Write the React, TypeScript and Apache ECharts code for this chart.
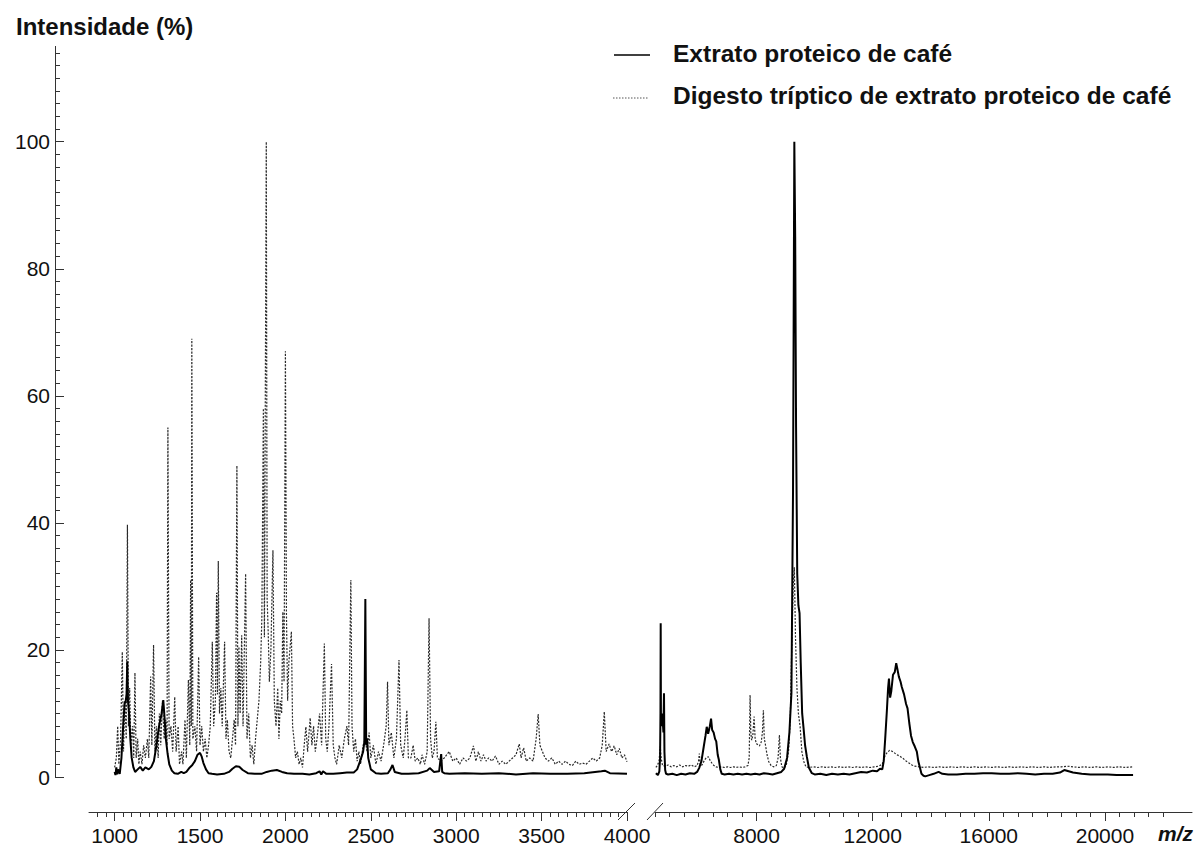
import React, { useEffect, useRef } from "react";
import * as echarts from "echarts";

const FONT = "'Liberation Sans', Arial, Helvetica, sans-serif";

const NAME_EXTRACT = "Extrato proteico de café";
const NAME_DIGEST = "Digesto tríptico de extrato proteico de café";
const Y_TITLE = "Intensidade (%)";
const X_TITLE = "m/z";

// tick positions / labels
const Y_MAJOR = [0, 20, 40, 60, 80, 100];
const LEFT_MAJOR = [1000, 1500, 2000, 2500, 3000, 3500, 4000];
const RIGHT_MAJOR = [8000, 12000, 16000, 20000];
const steps = (a: number, b: number, s: number) => {
  const out: number[] = [];
  for (let v = a; v <= b + 1e-9; v += s) out.push(v);
  return out;
};
const Y_MINOR = steps(0, 114, 2);
const LEFT_MINOR = steps(900, 4000, 50);
const RIGHT_MINOR = steps(4500, 22000, 500);

// Left panel (m/z 1000–4000): protein extract (solid)
const LEFT_EXTRACT: [number, number][] = [
  [1000, 0.8], [1005, 0.3], [1010, 1.5], [1015, 0.4], [1020, 1.2], [1030, 0.5], [1040, 3], [1050, 8],
  [1058, 11.5], [1065, 12], [1070, 13], [1074, 18.2], [1078, 12], [1085, 10], [1092, 6], [1100, 3],
  [1110, 1.5], [1120, 0.8], [1135, 1.2], [1150, 1.6], [1165, 1.0], [1180, 1.5], [1200, 1.2], [1215, 1.6],
  [1230, 2.5], [1245, 5], [1260, 8], [1275, 10], [1285, 12.1], [1292, 9.5], [1300, 6], [1310, 3.7],
  [1320, 2], [1335, 1], [1350, 0.6], [1370, 0.5], [1390, 0.8], [1405, 0.6], [1420, 0.8], [1440, 1.5],
  [1455, 1.9], [1470, 2.5], [1485, 3.5], [1500, 3.8], [1510, 3.2], [1520, 2.2], [1535, 1.2], [1550, 0.6],
  [1570, 0.5], [1600, 0.4], [1640, 0.5], [1670, 0.8], [1690, 1.3], [1710, 1.7], [1730, 1.6], [1750, 1.1],
  [1780, 0.6], [1820, 0.5], [1860, 0.5], [1890, 0.8], [1920, 1.0], [1950, 1.1], [1980, 0.8], [2010, 0.6],
  [2050, 0.5], [2100, 0.5], [2140, 0.4], [2180, 0.6], [2200, 0.9], [2210, 0.4], [2220, 0.9], [2240, 0.5],
  [2280, 0.5], [2320, 0.6], [2360, 0.7], [2400, 0.7], [2420, 1.2], [2440, 2.7], [2455, 4], [2462, 5.5],
  [2468, 28], [2473, 5], [2478, 6.1], [2485, 3], [2500, 1.2], [2530, 0.6], [2560, 0.5], [2600, 0.6],
  [2615, 1.2], [2627, 1.9], [2640, 0.8], [2680, 0.5], [2720, 0.5], [2780, 0.6], [2830, 1.0], [2845, 1.4],
  [2870, 0.8], [2900, 0.9], [2912, 3.6], [2918, 0.8], [2930, 0.6], [2960, 0.5], [3050, 0.6], [3150, 0.5],
  [3250, 0.6], [3350, 0.4], [3450, 0.6], [3550, 0.5], [3650, 0.5], [3750, 0.6], [3850, 0.9], [3870, 1.0],
  [3900, 0.6], [4000, 0.5],
];

// Left panel: tryptic digest (dotted)
const LEFT_DIGEST: [number, number][] = [
  [1000, 1.5], [1010, 3], [1018, 8], [1025, 2], [1035, 6], [1045, 19.7], [1052, 4], [1060, 12],
  [1068, 6], [1075, 39.7], [1081, 8], [1088, 14], [1095, 5], [1105, 8], [1112, 3], [1119, 16.4],
  [1126, 3], [1135, 6], [1142, 2], [1150, 4], [1160, 2], [1170, 5], [1180, 3], [1192, 6],
  [1200, 3], [1211, 15.8], [1218, 5], [1228, 20.8], [1236, 4], [1245, 8], [1255, 3], [1262, 10],
  [1270, 5], [1280, 12], [1290, 6], [1300, 9], [1307, 5], [1312, 55], [1319, 6], [1330, 8],
  [1340, 4], [1352, 12.6], [1360, 4], [1372, 8], [1380, 2], [1392, 4], [1400, 2], [1412, 9],
  [1420, 3], [1432, 15.3], [1440, 5], [1445, 31], [1449, 8], [1452, 69], [1458, 6], [1470, 8],
  [1480, 4], [1492, 18.9], [1500, 5], [1510, 8], [1520, 4], [1530, 6], [1540, 3], [1550, 5],
  [1560, 8], [1572, 21.3], [1580, 8], [1590, 12], [1597, 29], [1602, 13], [1607, 34], [1614, 10],
  [1622, 14], [1630, 8], [1644, 21.3], [1652, 6], [1660, 9], [1670, 4], [1680, 3], [1690, 6],
  [1700, 9], [1708, 5], [1716, 49], [1722, 8], [1728, 20.5], [1735, 10], [1744, 22.3], [1752, 8],
  [1767, 32], [1775, 6], [1785, 10], [1795, 3], [1805, 5], [1815, 2], [1825, 6], [1835, 9],
  [1845, 12], [1855, 18], [1862, 25], [1871, 58], [1877, 22], [1888, 100], [1893, 28], [1899, 23],
  [1906, 15], [1915, 20], [1927, 35.7], [1935, 12], [1945, 8], [1955, 14], [1962, 6], [1970, 12],
  [1978, 10], [1985, 26], [1992, 15], [2000, 67], [2006, 25.8], [2013, 12], [2020, 18], [2035, 22.9],
  [2042, 8], [2050, 6], [2060, 3], [2070, 4], [2080, 2], [2090, 3], [2100, 1.5], [2110, 5],
  [2120, 7.9], [2130, 4], [2145, 9.3], [2155, 5], [2165, 8], [2175, 4], [2185, 6], [2200, 10],
  [2212, 5], [2228, 21], [2236, 6], [2245, 4], [2255, 8], [2270, 17.8], [2280, 5], [2290, 3],
  [2300, 2], [2315, 5], [2330, 3], [2345, 6], [2360, 8], [2370, 5], [2383, 31], [2390, 8],
  [2400, 4], [2410, 6], [2420, 2.5], [2430, 4], [2440, 2], [2455, 5], [2467, 6], [2478, 4],
  [2490, 7], [2500, 3], [2515, 5], [2530, 2], [2545, 4], [2560, 2.5], [2575, 5], [2590, 8],
  [2598, 15], [2606, 5], [2620, 7], [2635, 3], [2650, 6], [2665, 18.4], [2675, 5], [2690, 3],
  [2700, 6], [2711, 10.5], [2720, 3], [2735, 3], [2748, 5], [2760, 2.5], [2775, 3], [2790, 2],
  [2800, 3.5], [2815, 2], [2830, 4], [2841, 25], [2850, 6], [2860, 3], [2870, 4], [2881, 8.7],
  [2890, 3], [2910, 2.5], [2930, 3], [2959, 4], [2980, 2.5], [3000, 3], [3020, 2], [3040, 3],
  [3060, 2.5], [3080, 3], [3101, 4.9], [3115, 2.5], [3130, 4], [3145, 2.5], [3160, 3.5], [3175, 2.5],
  [3190, 3], [3210, 2.5], [3230, 3.3], [3250, 2], [3270, 2.5], [3290, 2], [3310, 2.5], [3330, 3],
  [3350, 3.5], [3369, 5.2], [3380, 3], [3395, 4.6], [3410, 2.5], [3430, 3], [3450, 2.5], [3468, 6],
  [3480, 9.9], [3490, 5], [3505, 4], [3520, 3], [3540, 2.5], [3560, 3], [3580, 2], [3600, 2.5],
  [3620, 2], [3640, 2.5], [3660, 2], [3680, 1.8], [3700, 2.5], [3720, 2], [3740, 2.2], [3760, 2],
  [3780, 2.5], [3800, 3], [3820, 2.5], [3840, 3], [3855, 5], [3867, 10.3], [3878, 4], [3895, 5.2],
  [3910, 4], [3925, 4.9], [3940, 3.5], [3955, 4.5], [3970, 3], [3985, 3.5], [4000, 2.4],
];

// Right panel (m/z 4500–21000): protein extract (solid)
const RIGHT_EXTRACT: [number, number][] = [
  [4530, 0.6], [4600, 0.3], [4650, 0.9], [4675, 3], [4688, 10], [4696, 24.2], [4705, 9], [4725, 8],
  [4745, 10], [4770, 8.5], [4790, 7], [4810, 13.2], [4825, 4], [4850, 1.1], [4880, 0.5], [4950, 0.4],
  [5100, 0.5], [5250, 0.3], [5400, 0.5], [5550, 0.4], [5700, 0.6], [5850, 0.5], [5950, 0.8], [6020, 1.4],
  [6100, 2.5], [6180, 4.8], [6240, 6.5], [6282, 7.9], [6330, 6.8], [6390, 8], [6431, 9.2], [6470, 7.4],
  [6520, 7], [6570, 6], [6610, 5.6], [6660, 3.5], [6700, 2.7], [6750, 1.2], [6800, 0.5], [6900, 0.4],
  [7050, 0.5], [7200, 0.4], [7350, 0.5], [7500, 0.4], [7650, 0.5], [7800, 0.4], [7950, 0.5], [8100, 0.4],
  [8250, 0.6], [8400, 0.5], [8550, 0.4], [8700, 0.6], [8850, 0.8], [8950, 1.3], [9050, 3], [9130, 7],
  [9200, 13.2], [9255, 45], [9300, 100], [9330, 85], [9360, 55], [9400, 32], [9440, 27], [9480, 25.8],
  [9520, 18], [9570, 10], [9614, 7.9], [9670, 5], [9731, 3.2], [9800, 1.5], [9903, 0.6], [10000, 0.4],
  [10200, 0.5], [10400, 0.3], [10600, 0.5], [10800, 0.4], [11000, 0.5], [11200, 0.4], [11400, 0.6], [11600, 0.8],
  [11800, 0.7], [12000, 1], [12150, 0.9], [12250, 1.3], [12330, 1.2], [12380, 2.5], [12430, 6], [12489, 10.5],
  [12530, 14], [12560, 15.5], [12600, 12.5], [12640, 13.5], [12700, 16.1], [12760, 16.5], [12810, 17.9], [12850, 17],
  [12900, 15.8], [12960, 15], [13000, 14.2], [13080, 13], [13150, 11.5], [13200, 10.8], [13260, 8.5], [13320, 6.5],
  [13380, 5.5], [13450, 4.8], [13520, 4], [13570, 2.5], [13620, 1.6], [13680, 0.5], [13750, 0.2], [13810, 0.1],
  [13950, 0.3], [14100, 0.5], [14270, 0.8], [14400, 0.5], [14600, 0.4], [14900, 0.4], [15200, 0.5], [15500, 0.5],
  [15800, 0.6], [16100, 0.6], [16400, 0.5], [16700, 0.5], [17000, 0.6], [17300, 0.5], [17600, 0.4], [17900, 0.5],
  [18200, 0.5], [18450, 0.7], [18600, 1.1], [18750, 0.9], [18900, 0.7], [19200, 0.5], [19500, 0.4], [19800, 0.4],
  [20100, 0.4], [20400, 0.3], [20700, 0.3], [20970, 0.3],
];

// Right panel: tryptic digest (dotted)
const RIGHT_DIGEST: [number, number][] = [
  [4530, 1.5], [4580, 1.8], [4640, 2.5], [4680, 4.8], [4710, 3], [4760, 1.8], [4850, 1.7], [4950, 1.9],
  [5050, 1.6], [5150, 1.8], [5250, 1.6], [5350, 1.9], [5450, 1.6], [5550, 1.8], [5650, 1.7], [5750, 1.9],
  [5850, 1.6], [5950, 1.8], [6000, 2.5], [6027, 3.7], [6060, 1.8], [6120, 1.9], [6200, 2.6], [6260, 3],
  [6338, 3.2], [6400, 2.6], [6460, 2.2], [6530, 1.8], [6600, 1.6], [6700, 1.5], [6800, 1.6], [6900, 1.5],
  [7000, 1.6], [7100, 1.5], [7200, 1.6], [7300, 1.5], [7400, 1.6], [7500, 1.5], [7600, 1.6], [7700, 1.8],
  [7745, 3], [7776, 12.9], [7800, 7], [7830, 5.8], [7870, 6.5], [7914, 9.5], [7950, 6], [7990, 5.3],
  [8050, 5], [8100, 4.9], [8160, 5.5], [8200, 7], [8234, 10.5], [8265, 6], [8300, 5.2], [8360, 3.5],
  [8420, 2.4], [8500, 1.8], [8580, 1.6], [8680, 1.8], [8740, 3], [8786, 6.6], [8820, 3], [8870, 1.6],
  [8950, 1.4], [9020, 1.8], [9100, 4], [9160, 9], [9213, 21], [9260, 30], [9300, 33], [9340, 22],
  [9390, 14], [9440, 10], [9500, 7.9], [9560, 4], [9620, 2.5], [9700, 1.6], [9800, 1.5], [9950, 1.6],
  [10100, 1.5], [10250, 1.6], [10400, 1.5], [10550, 1.6], [10700, 1.5], [10850, 1.6], [11000, 1.5], [11150, 1.6],
  [11300, 1.5], [11450, 1.6], [11600, 1.5], [11750, 1.6], [11900, 1.5], [12050, 1.6], [12200, 1.7], [12330, 2],
  [12374, 2.7], [12430, 3.4], [12489, 3.8], [12580, 4.2], [12650, 4.1], [12720, 3.9], [12800, 3.6], [12880, 3.4],
  [12960, 3.2], [13050, 2.9], [13150, 2.5], [13250, 2.2], [13350, 1.9], [13450, 1.7], [13600, 1.6], [13750, 1.5],
  [13900, 1.6], [14100, 1.5], [14300, 1.6], [14500, 1.5], [14700, 1.6], [14900, 1.5], [15100, 1.6], [15300, 1.5],
  [15500, 1.6], [15700, 1.5], [15900, 1.6], [16100, 1.5], [16300, 1.6], [16500, 1.5], [16700, 1.6], [16900, 1.5],
  [17100, 1.6], [17300, 1.5], [17500, 1.6], [17700, 1.5], [17900, 1.6], [18100, 1.5], [18300, 1.6], [18500, 1.6],
  [18700, 1.7], [18900, 1.6], [19100, 1.5], [19300, 1.6], [19500, 1.5], [19700, 1.6], [19900, 1.5], [20100, 1.6],
  [20300, 1.5], [20500, 1.6], [20700, 1.5], [20970, 1.6],
];

const AXIS_COLOR = "#333";
const TEXT_COLOR = "#111";
const SOLID_STYLE = { color: "#000", width: 2 };
const DOTTED_STYLE = { color: "#2a2a2a", width: 1.2, dash: [2, 1.5] };

export default function App() {
  const ref = useRef<HTMLDivElement>(null);

  useEffect(() => {
    if (!ref.current) return;
    const chart = echarts.init(ref.current, undefined, { renderer: "svg" });

    const Y_MIN = 0;
    const Y_MAX = 115;
    const GRID_TOP = 46.4;
    const GRID_BOTTOM = 73;

    const labelStyle = { fontSize: 21, color: TEXT_COLOR, fontFamily: FONT };
    const plain = (v: number) => String(v);

    const xMinorAxis = (gridIndex: number, min: number, max: number, minor: number[], major: number[]) => ({
      type: "value",
      gridIndex,
      min,
      max,
      position: "bottom",
      offset: 35,
      axisLine: { show: true, onZero: false, lineStyle: { color: AXIS_COLOR, width: 1 } },
      axisTick: { show: true, length: 5, customValues: minor, lineStyle: { color: AXIS_COLOR, width: 1 } },
      axisLabel: { show: true, customValues: major, margin: 13, formatter: plain, ...labelStyle },
      splitLine: { show: false },
    });
    const xMajorAxis = (gridIndex: number, min: number, max: number, major: number[]) => ({
      type: "value",
      gridIndex,
      min,
      max,
      position: "bottom",
      offset: 35,
      axisLine: { show: false, onZero: false },
      axisTick: { show: true, length: 9, customValues: major, lineStyle: { color: AXIS_COLOR, width: 1 } },
      axisLabel: { show: false },
      splitLine: { show: false },
    });

    const lineSeries = (name: string, data: [number, number][], xi: number, yi: number, solid: boolean) => ({
      type: "line",
      name,
      data,
      xAxisIndex: xi,
      yAxisIndex: yi,
      symbol: "none",
      showSymbol: false,
      smooth: false,
      z: solid ? 3 : 2,
      lineStyle: solid
        ? { color: SOLID_STYLE.color, width: SOLID_STYLE.width, type: "solid" }
        : { color: DOTTED_STYLE.color, width: DOTTED_STYLE.width, type: DOTTED_STYLE.dash },
      itemStyle: { color: solid ? SOLID_STYLE.color : DOTTED_STYLE.color },
      emphasis: { disabled: true },
    });

    const legendText = (text: string, y: number) => ({
      type: "text",
      left: 673,
      top: y - 14,
      style: {
        text,
        fontSize: 24.5,
        fontWeight: "bold",
        fill: TEXT_COLOR,
        fontFamily: FONT,
      },
    });

    chart.setOption({
      animation: false,
      backgroundColor: "#fff",
      title: {
        text: Y_TITLE,
        left: 11,
        top: 9,
        textStyle: { fontSize: 24, fontWeight: "bold", color: TEXT_COLOR, fontFamily: FONT },
      },
      grid: [
        { left: 89, right: 573, top: GRID_TOP, bottom: GRID_BOTTOM, containLabel: false },
        { left: 655, right: 8, top: GRID_TOP, bottom: GRID_BOTTOM, containLabel: false },
      ],
      xAxis: [
        xMinorAxis(0, 850, 4000, LEFT_MINOR, LEFT_MAJOR),
        xMajorAxis(0, 850, 4000, LEFT_MAJOR),
        xMinorAxis(1, 4500, 23000, RIGHT_MINOR, RIGHT_MAJOR),
        xMajorAxis(1, 4500, 23000, RIGHT_MAJOR),
      ],
      yAxis: [
        {
          type: "value",
          gridIndex: 0,
          min: Y_MIN,
          max: Y_MAX,
          position: "left",
          offset: 34,
          axisLine: { show: true, onZero: false, lineStyle: { color: AXIS_COLOR, width: 1 } },
          axisTick: { show: true, inside: true, length: 5, customValues: Y_MINOR, lineStyle: { color: AXIS_COLOR } },
          axisLabel: { show: true, customValues: Y_MAJOR, margin: 5, formatter: plain, ...labelStyle },
          splitLine: { show: false },
        },
        {
          type: "value",
          gridIndex: 0,
          min: Y_MIN,
          max: Y_MAX,
          position: "left",
          offset: 34,
          axisLine: { show: false, onZero: false },
          axisTick: { show: true, inside: true, length: 9, customValues: Y_MAJOR, lineStyle: { color: AXIS_COLOR } },
          axisLabel: { show: false },
          splitLine: { show: false },
        },
        {
          type: "value",
          gridIndex: 1,
          min: Y_MIN,
          max: Y_MAX,
          show: false,
          splitLine: { show: false },
        },
      ],
      series: [
        lineSeries(NAME_DIGEST, LEFT_DIGEST, 0, 0, false),
        lineSeries(NAME_DIGEST, RIGHT_DIGEST, 2, 2, false),
        lineSeries(NAME_EXTRACT, LEFT_EXTRACT, 0, 0, true),
        lineSeries(NAME_EXTRACT, RIGHT_EXTRACT, 2, 2, true),
      ],
      graphic: [
        // axis break marks
        { type: "line", shape: { x1: 618, y1: 820, x2: 635, y2: 803 }, style: { stroke: AXIS_COLOR, lineWidth: 1 } },
        { type: "line", shape: { x1: 647, y1: 820, x2: 663, y2: 803 }, style: { stroke: AXIS_COLOR, lineWidth: 1 } },
        // legend
        { type: "line", shape: { x1: 614, y1: 55, x2: 650, y2: 55 }, style: { stroke: SOLID_STYLE.color, lineWidth: 1.6 } },
        legendText(NAME_EXTRACT, 55),
        {
          type: "line",
          shape: { x1: 613, y1: 98, x2: 648, y2: 98 },
          style: { stroke: "#555", lineWidth: 1, lineDash: [1.5, 1.5] },
        },
        legendText(NAME_DIGEST, 97),
        // x axis name
        {
          type: "text",
          left: 1158,
          top: 823,
          style: {
            text: X_TITLE,
            fontSize: 21,
            fontWeight: "bold",
            fontStyle: "italic",
            fill: TEXT_COLOR,
            fontFamily: FONT,
          },
        },
      ],
    });

    return () => chart.dispose();
  }, []);

  return (
    <div
      ref={ref}
      style={{ position: "fixed", left: 0, top: 0, width: 1200, height: 850, background: "#fff" }}
    />
  );
}
